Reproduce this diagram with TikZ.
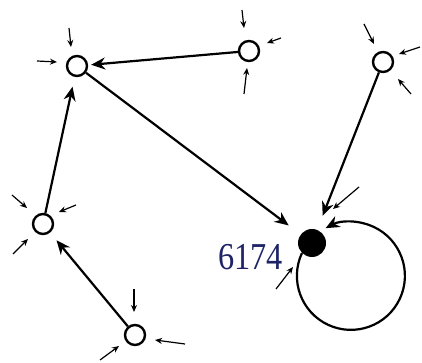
\documentclass[tikz,border=0pt]{standalone}
\usepackage{fontspec}
\setmainfont{Liberation Serif}
\usepackage{tikz}
\usetikzlibrary{arrows.meta,positioning,calc}
\definecolor{NumBlue}{HTML}{1E2466}

\begin{document}
\begin{tikzpicture}[x=1pt,y=1pt,
  state/.style={circle,draw,line width=2.4pt,minimum size=20pt,inner sep=0pt},
  fixed/.style={circle,fill,minimum size=28pt,inner sep=0pt},
  flow/.style={line width=2.2pt,-{Stealth[length=14pt,width=12pt]}},
  feed/.style={line width=1.2pt,-{Stealth[length=7pt,width=6pt]}}]
\useasboundingbox (0,0) rectangle (422,363);
% numbers and the fixed point
\node[state] (A) at (77,297) {};
\node[state] (B) at (249,312) {};
\node[state] (C) at (383,301) {};
\node[state] (D) at (43,139) {};
\node[state] (E) at (135,28) {};
\node[fixed] (F) at (312,120) {};
\node[anchor=base east,xscale=.85,text=NumBlue,
      font=\fontsize{38}{38}\selectfont] (num) at ($(F)+(-26,-27)$) {6174};
% iterations
\draw[flow,shorten >=3pt] (B) -- (A);
\draw[flow,shorten >=10pt] (D) -- (A);
\draw[flow,shorten >=10pt] (E) -- (D);
\draw[flow,shorten >=15pt] (A) -- (F);
\draw[flow,shorten >=15pt] (C) -- (F);
\draw[flow] (F.225) arc[start angle=155,end angle=478,radius=54];
% incoming from elsewhere
\foreach \n/\x/\y/\u/\v in {A/-8/38/-6/19, A/-40/5/-20/4,
    B/-7/41/-5/23, B/32/13/18/8, B/-5/-43/-2/-17,
    C/-19/38/-9/18, C/37/15/16/8, C/28/-32/15/-17,
    D/-31/29/-16/16, D/33/19/16/12, D/-30/-30/-15/-15,
    E/-1/46/-1/23, E/50/-9/20/-5, E/-35/-25/-16/-11,
    F/47/56/21/34, F/-36/-46/-19/-24}
  \draw[feed] ($(\n)+(\x,\y)$) -- ($(\n)+(\u,\v)$);
\end{tikzpicture}
\end{document}
